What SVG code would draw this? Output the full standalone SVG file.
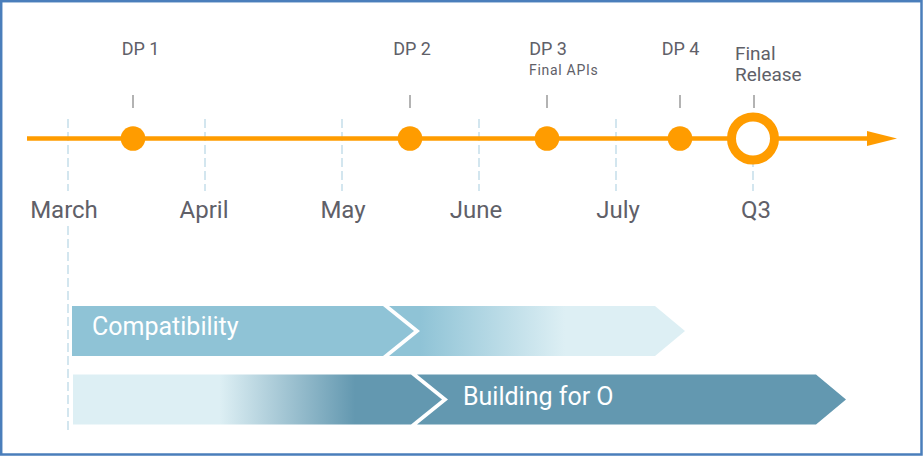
<svg xmlns="http://www.w3.org/2000/svg" width="923" height="456" viewBox="0 0 923 456">
<style>
.lbl{font-family:Roboto,"Liberation Sans",sans-serif;fill:#606068}
.dp{font-size:18px;text-anchor:middle}
.mon{font-size:24px;text-anchor:middle}
.grid{stroke:#d3e6ef;stroke-width:2;stroke-dasharray:9 4;fill:none}
.tick{stroke:#9a9a9a;stroke-width:1.5}
.dot{fill:#ff9c00}
.bartxt{font-family:Roboto,"Liberation Sans",sans-serif;font-size:25px;fill:#ffffff}
</style>
<defs>
<linearGradient id="gCompat" gradientUnits="userSpaceOnUse" x1="420" y1="0" x2="565" y2="0">
<stop offset="0" stop-color="#8fc3d6"/>
<stop offset="1" stop-color="#ddeff4"/>
</linearGradient>
<linearGradient id="gBuild" gradientUnits="userSpaceOnUse" x1="220" y1="0" x2="355" y2="0">
<stop offset="0" stop-color="#ddeff4"/>
<stop offset="1" stop-color="#6398b0"/>
</linearGradient>
</defs>
<rect x="1.2" y="1.2" width="920.3" height="453.3" fill="#ffffff" stroke="#4a7ebb" stroke-width="2.5"/>

<g id="gridlines">
<line class="grid" x1="68" y1="119" x2="68" y2="191"/>
<line class="grid" x1="68" y1="226" x2="68" y2="433"/>
<line class="grid" x1="205" y1="119" x2="205" y2="191"/>
<line class="grid" x1="342" y1="119" x2="342" y2="191"/>
<line class="grid" x1="479" y1="119" x2="479" y2="191"/>
<line class="grid" x1="616" y1="119" x2="616" y2="191"/>
<line class="grid" x1="753" y1="119" x2="753" y2="191"/>
</g>

<g id="connectors">
<line x1="27" y1="138.5" x2="870" y2="138.5" stroke="#ff9c00" stroke-width="4.5"/>
<path d="M867,131 L897,138.5 L867,146 Z" fill="#ff9c00"/>
<line class="tick" x1="133" y1="95" x2="133" y2="108"/>
<line class="tick" x1="410" y1="95" x2="410" y2="108"/>
<line class="tick" x1="547" y1="95" x2="547" y2="108"/>
<line class="tick" x1="680" y1="95" x2="680" y2="108"/>
<line class="tick" x1="754" y1="95" x2="754" y2="108"/>
</g>

<g id="dp1"><circle class="dot" cx="133" cy="138.5" r="12.3"/><text class="lbl dp" x="140.5" y="55">DP 1</text></g>
<g id="dp2"><circle class="dot" cx="410" cy="138.5" r="12.3"/><text class="lbl dp" x="412" y="55">DP 2</text></g>
<g id="dp3"><circle class="dot" cx="547" cy="138.5" r="12.3"/><text class="lbl dp" x="548" y="55">DP 3</text><text class="lbl" x="529" y="75" font-size="14" letter-spacing="0.7">Final APIs</text></g>
<g id="dp4"><circle class="dot" cx="680" cy="138.5" r="12.3"/><text class="lbl dp" x="680.5" y="55">DP 4</text></g>
<g id="final"><circle cx="753" cy="138.5" r="21.5" fill="#ffffff" stroke="#ff9c00" stroke-width="9"/><text class="lbl" x="735" y="60" font-size="19">Final</text><text class="lbl" x="735" y="81" font-size="19">Release</text></g>

<g id="months">
<text class="lbl mon" x="64" y="218">March</text>
<text class="lbl mon" x="204" y="218">April</text>
<text class="lbl mon" x="343" y="218">May</text>
<text class="lbl mon" x="476" y="218">June</text>
<text class="lbl mon" x="618" y="218">July</text>
<text class="lbl mon" x="756" y="218">Q3</text>
</g>

<g id="compatibility">
<polygon points="72,306 383,306 414,331 383,356 72,356" fill="#8fc3d6"/>
<polygon points="389,306 655,306 685,331 655,356 389,356 420,331" fill="url(#gCompat)"/>
<text class="bartxt" x="92" y="335">Compatibility</text>
</g>

<g id="building">
<polygon points="73,374.5 411,374.5 442,399.5 411,424.5 73,424.5" fill="url(#gBuild)"/>
<polygon points="417,374.5 816,374.5 846,399.5 816,424.5 417,424.5 448,399.5" fill="#6398b0"/>
<text class="bartxt" x="463" y="405">Building for O</text>
</g>
</svg>
